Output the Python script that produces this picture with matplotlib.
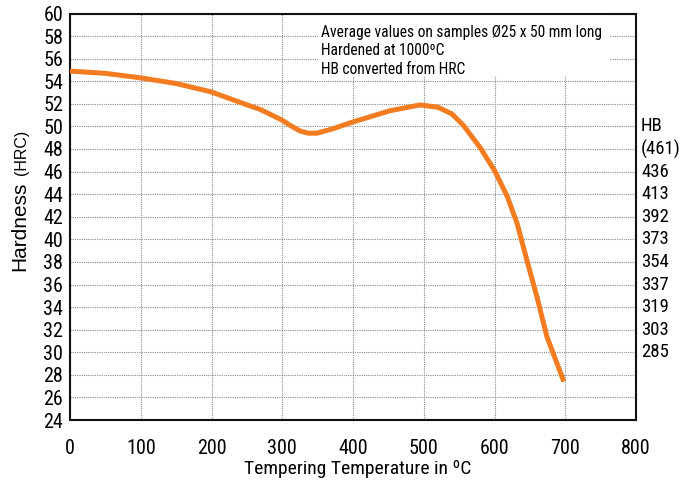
import matplotlib
matplotlib.use("Agg")
import matplotlib.pyplot as plt
from matplotlib.patches import Rectangle
from matplotlib.ticker import MultipleLocator

NARROW = dict(family=["Roboto Condensed", "DejaVu Sans"], stretch="condensed")
ORANGE = "#f47c20"

# tempering temperature (C) and hardness (HRC)
temp = [0, 50, 100, 150, 200, 255, 269, 300, 311, 325, 337, 349, 372, 400, 453,
        495, 520, 540, 556, 580, 600, 618, 632, 646, 660, 674, 698]
hrc = [54.9, 54.7, 54.3, 53.8, 53.05, 51.8, 51.5, 50.55, 50.1, 49.6, 49.4, 49.4,
       49.8, 50.4, 51.4, 51.9, 51.7, 51.1, 50.1, 48.1, 46.1, 43.8, 41.4, 38.1,
       34.9, 31.4, 27.4]

# brinell equivalents shown on the right
hb_at = [50, 48, 46, 44, 42, 40, 38, 36, 34, 32, 30]
hb_labels = ["HB", "(461)", "436", "413", "392", "373", "354", "337", "319", "303", "285"]

notes = ["Average values on samples Ø25 x 50 mm long",
         "Hardened at 1000ºC",
         "HB converted from HRC"]

fig = plt.figure(figsize=(6.81, 4.82), dpi=100)
ax = fig.add_axes([70 / 681, 62 / 482, 566 / 681, 406.5 / 482])

ax.plot(temp, hrc, color=ORANGE, lw=3.6, solid_capstyle="butt",
        solid_joinstyle="round", zorder=3)

ax.set_xlim(0, 800)
ax.set_ylim(24, 60)
ax.xaxis.set_major_locator(MultipleLocator(100))
ax.yaxis.set_major_locator(MultipleLocator(2))
ax.set_axisbelow(True)
ax.grid(True, color="#8a8a8a", lw=0.8, ls=(0, (1, 1)))
ax.tick_params(axis="both", length=0, labelsize=14.5)
ax.tick_params(axis="x", pad=14)
ax.tick_params(axis="y", pad=5)
for lab in ax.get_xticklabels() + ax.get_yticklabels():
    lab.set_family(NARROW["family"])
    lab.set_stretch(NARROW["stretch"])
for sp in ax.spines.values():
    sp.set_linewidth(1.5)
    sp.set_color("#111111")

# white box behind the notes hides the grid
ax.add_patch(Rectangle((350, 54.45), 413, 5.55, facecolor="white",
                       edgecolor="none", zorder=1))
for i, line in enumerate(notes):
    ax.text(355, 58.3 - i * 1.62, line, fontsize=11.2, va="center", ha="left",
            zorder=4, **NARROW)

ytr = ax.get_yaxis_transform()
for v, s in zip(hb_at, hb_labels):
    ax.text(1.009, v, s, transform=ytr, fontsize=13.5, va="center", ha="left",
            clip_on=False, **NARROW)

fig.text(358 / 681, 1 - 469 / 482, "Tempering Temperature in ºC",
         fontsize=14, ha="center", va="center", **NARROW)
fig.text(20 / 681, 1 - 226 / 482, "Hardness", family=["Liberation Sans", "DejaVu Sans"],
         fontsize=15, rotation=90, ha="center", va="center")
fig.text(21 / 681, 1 - 152 / 482, "(HRC)", family=["Liberation Sans", "DejaVu Sans"],
         fontsize=11.5, rotation=90, ha="center", va="center")

fig.savefig("out.png", dpi=100)
